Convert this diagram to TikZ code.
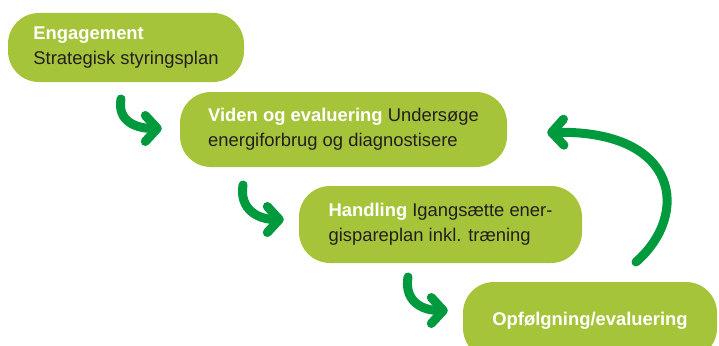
\documentclass[tikz,border=0pt]{standalone}
\usepackage{fontspec}
\setmainfont{Liberation Sans}
\usepackage{xcolor}
\usetikzlibrary{arrows.meta,positioning}

\definecolor{boxgreen}{HTML}{A6C43A}
\definecolor{arrowgreen}{HTML}{009A3E}
\definecolor{textdark}{HTML}{231F20}

\newcommand{\steptitle}[1]{\textcolor{white}{\textbf{#1}}}

\begin{document}
\begin{tikzpicture}[
    x=1pt, y=-1pt,
    box/.style={rectangle, rounded corners=31pt, fill=boxgreen, text=textdark, align=left, inner sep=0pt, font=\fontsize{18.4}{25}\selectfont},
    hook/.style={draw=arrowgreen, line width=9pt, line cap=round, -{Straight Barb[length=12pt,width=26pt,round]}}
]
    \fill[white] (0,0) rectangle (719,345);
    \useasboundingbox (0,0) rectangle (719,345);

    \node[box, minimum width=236pt, minimum height=69pt] (engage) at (126,47.5) {\steptitle{Engagement}\\Strategisk styringsplan};
    \node[box, minimum width=327pt, minimum height=75pt] (viden) at (343.5,129.5) {\steptitle{Viden og evaluering} Undersøge\\energiforbrug og diagnostisere};
    \node[box, minimum width=283pt, minimum height=77pt] (handling) at (440.5,224.5) {\steptitle{Handling} Igangsætte ener-\\gispareplan inkl. træning};
    \node[box, minimum width=254pt, minimum height=77pt] (opfolg) at (590,320.5) {\steptitle{Opfølgning/evaluering}};

    % start points of the arrows
    \coordinate (s1) at (121,99);
    \coordinate (s2) at (243,185);
    \coordinate (s3) at (408,277);
    \coordinate (s4) at (636,262);

    \draw[hook] (s1) .. controls +(-4,22) and +(-26,0) .. ([xshift=-18pt,yshift=1pt]viden.west);
    \draw[hook] (s2) .. controls +(-4,24) and +(-26,0) .. ([xshift=-15pt,yshift=5pt]handling.west);
    \draw[hook] (s3) .. controls +(-4,24) and +(-26,0) .. ([xshift=-15pt,yshift=10pt]opfolg.west);
    \draw[hook] (s4) .. controls (690,215) and (680,130) .. ([xshift=40pt,yshift=-3pt]viden.east);
\end{tikzpicture}
\end{document}
